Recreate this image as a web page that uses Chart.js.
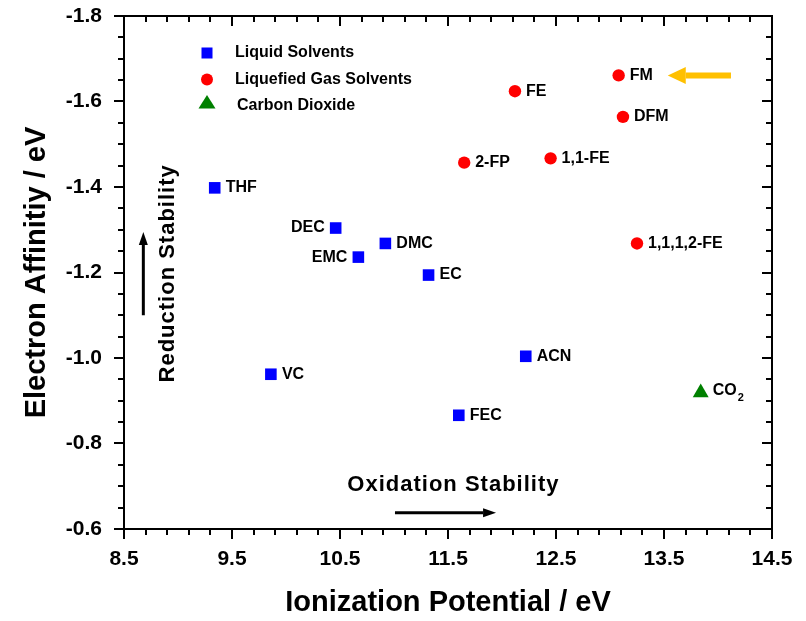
<!DOCTYPE html>
<html>
<head>
<meta charset="utf-8">
<title>Electron Affinity vs Ionization Potential</title>
<script src="https://cdn.jsdelivr.net/npm/chart.js@4.4.0/dist/chart.umd.min.js"></script>
<style>
  html, body { margin: 0; padding: 0; background: #fff; }
  #wrap { width: 806px; height: 621px; }
</style>
</head>
<body>
<div id="wrap"><canvas id="chart" width="806" height="621"></canvas></div>
<script>
// Liquid solvents (blue squares)
const liquidNames = ["THF", "DEC", "EMC", "DMC", "EC", "VC", "ACN", "FEC"];
const liquidIP = [9.34, 10.46, 10.67, 10.92, 11.32, 9.86, 12.22, 11.60];
const liquidEA = [-1.398, -1.304, -1.236, -1.268, -1.194, -0.962, -1.004, -0.866];
const liquidSides = ["right", "left", "left", "right", "right", "right", "right", "right"];

// Liquefied gas solvents (red circles)
const gasNames = ["FE", "FM", "DFM", "2-FP", "1,1-FE", "1,1,1,2-FE"];
const gasIP = [12.12, 13.08, 13.12, 11.65, 12.45, 13.25];
const gasEA = [-1.624, -1.661, -1.564, -1.457, -1.467, -1.268];
const gasSides = ["right", "right", "right", "right", "right", "right"];

// Carbon dioxide (green triangle)
const co2Names = ["CO2"];
const co2IP = [13.84];
const co2EA = [-0.919];
const co2Sides = ["right"];

const xTickValues = [8.5, 9.5, 10.5, 11.5, 12.5, 13.5, 14.5];
const yTickValues = [-1.8, -1.6, -1.4, -1.2, -1.0, -0.8, -0.6];
const xMinorStep = 0.2;
const yMinorStep = 0.05;

const FONT = '"Liberation Sans", Arial, sans-serif';

function toPoints(xs, ys) {
    return xs.map((x, i) => ({ x: x, y: ys[i] }));
}

// frame around the plot, with outward ticks bottom/left and inward ticks top/right
const framePlugin = {
    id: "frame",
    afterDraw(chart) {
        const { ctx, chartArea: a, scales: { x, y } } = chart;
        const major = 10;
        const minor = 6;
        ctx.save();
        ctx.strokeStyle = "#000";
        ctx.lineWidth = 2;
        ctx.strokeRect(a.left, a.top, a.right - a.left, a.bottom - a.top);
        ctx.beginPath();
        const nx = Math.round((x.max - x.min) / xMinorStep);
        for (let k = 0; k <= nx; k++) {
            const px = Math.round(x.getPixelForValue(x.min + k * xMinorStep));
            const len = k % 5 === 0 ? major : minor;
            ctx.moveTo(px, a.bottom);
            ctx.lineTo(px, a.bottom + len);
            ctx.moveTo(px, a.top);
            ctx.lineTo(px, a.top + len);
        }
        const ny = Math.round((y.max - y.min) / yMinorStep);
        for (let k = 0; k <= ny; k++) {
            const py = Math.round(y.getPixelForValue(y.min + k * yMinorStep));
            const len = k % 4 === 0 ? major : minor;
            ctx.moveTo(a.left, py);
            ctx.lineTo(a.left - len, py);
            ctx.moveTo(a.right, py);
            ctx.lineTo(a.right - len, py);
        }
        ctx.stroke();
        ctx.restore();
    }
};

// compound names next to each marker
const nameLabelPlugin = {
    id: "nameLabels",
    afterDatasetsDraw(chart) {
        const ctx = chart.ctx;
        ctx.save();
        ctx.fillStyle = "#000";
        ctx.textBaseline = "middle";
        chart.data.datasets.forEach((ds, i) => {
            const meta = chart.getDatasetMeta(i);
            meta.data.forEach((pt, j) => {
                const name = ds.names[j];
                const side = ds.sides[j];
                ctx.font = "bold 16px " + FONT;
                if (name === "CO2") {
                    const tx = pt.x + 12;
                    ctx.textAlign = "left";
                    ctx.fillText("CO", tx, pt.y - 2);
                    const w = ctx.measureText("CO").width;
                    ctx.font = "bold 11px " + FONT;
                    ctx.fillText("2", tx + w + 1, pt.y + 5);
                    return;
                }
                if (side === "left") {
                    ctx.textAlign = "right";
                    ctx.fillText(name, pt.x - 11, pt.y);
                } else {
                    ctx.textAlign = "left";
                    ctx.fillText(name, pt.x + 11, pt.y);
                }
            });
        });
        ctx.restore();
    }
};

function arrow(ctx, x1, y1, x2, y2, width, headLen, headHalf, color) {
    const ang = Math.atan2(y2 - y1, x2 - x1);
    const bx = x2 - Math.cos(ang) * headLen;
    const by = y2 - Math.sin(ang) * headLen;
    ctx.strokeStyle = color;
    ctx.fillStyle = color;
    ctx.lineWidth = width;
    ctx.beginPath();
    ctx.moveTo(x1, y1);
    ctx.lineTo(bx, by);
    ctx.stroke();
    ctx.beginPath();
    ctx.moveTo(x2, y2);
    ctx.lineTo(bx - Math.sin(ang) * headHalf, by + Math.cos(ang) * headHalf);
    ctx.lineTo(bx + Math.sin(ang) * headHalf, by - Math.cos(ang) * headHalf);
    ctx.closePath();
    ctx.fill();
}

// legend box, stability arrows and the FM pointer
const annotationPlugin = {
    id: "annotations",
    afterDraw(chart) {
        const { ctx, chartArea: a, scales: { x, y } } = chart;
        ctx.save();

        // legend
        const mx = a.left + 83;
        const tx = a.left + 111;
        const rows = [a.top + 37, a.top + 63.5, a.top + 89];
        ctx.fillStyle = "#0000ff";
        ctx.fillRect(mx - 5.5, rows[0] - 5.5, 11, 11);
        ctx.fillStyle = "#ff0000";
        ctx.beginPath();
        ctx.arc(mx, rows[1], 6, 0, Math.PI * 2);
        ctx.fill();
        ctx.fillStyle = "#008000";
        ctx.beginPath();
        ctx.moveTo(mx, rows[2] - 10);
        ctx.lineTo(mx + 8.5, rows[2] + 3.5);
        ctx.lineTo(mx - 8.5, rows[2] + 3.5);
        ctx.closePath();
        ctx.fill();
        ctx.fillStyle = "#000";
        ctx.font = "bold 16px " + FONT;
        ctx.textBaseline = "middle";
        ctx.textAlign = "left";
        ctx.fillText("Liquid Solvents", tx, rows[0]);
        ctx.fillText("Liquefied Gas Solvents", tx, rows[1]);
        ctx.fillText("Carbon Dioxide", tx + 2, rows[2] + 1);

        // pointer to FM
        const fy = y.getPixelForValue(gasEA[1]);
        arrow(ctx, x.getPixelForValue(14.12), fy, x.getPixelForValue(13.535), fy, 6, 18, 8.5, "#ffc000");

        // reduction stability
        const rx = x.getPixelForValue(8.679);
        arrow(ctx, rx, y.getPixelForValue(-1.100), rx, y.getPixelForValue(-1.295), 3, 13, 4.5, "#000");
        ctx.save();
        ctx.translate(x.getPixelForValue(8.903), y.getPixelForValue(-1.198));
        ctx.rotate(-Math.PI / 2);
        ctx.fillStyle = "#000";
        ctx.font = "bold 22px " + FONT;
        ctx.letterSpacing = "1px";
        ctx.textAlign = "center";
        ctx.textBaseline = "middle";
        ctx.fillText("Reduction Stability", 0, 0);
        ctx.restore();

        // oxidation stability
        const oy = y.getPixelForValue(-0.638);
        arrow(ctx, x.getPixelForValue(11.009), oy, x.getPixelForValue(11.945), oy, 3, 13, 4.5, "#000");
        ctx.fillStyle = "#000";
        ctx.font = "bold 22px " + FONT;
        ctx.letterSpacing = "1px";
        ctx.textAlign = "center";
        ctx.textBaseline = "middle";
        ctx.fillText("Oxidation Stability", x.getPixelForValue(11.55), y.getPixelForValue(-0.703));
        ctx.restore();
    }
};

const tickFont = { family: FONT, size: 21, weight: "bold" };
const titleFont = { family: FONT, size: 29, weight: "bold" };

new Chart(document.getElementById("chart"), {
    type: "scatter",
    data: {
        datasets: [
            {
                label: "Liquid Solvents",
                data: toPoints(liquidIP, liquidEA),
                names: liquidNames,
                sides: liquidSides,
                pointStyle: "rect",
                pointRadius: 8.2,
                backgroundColor: "#0000ff",
                borderColor: "#0000ff",
                borderWidth: 0
            },
            {
                label: "Liquefied Gas Solvents",
                data: toPoints(gasIP, gasEA),
                names: gasNames,
                sides: gasSides,
                pointStyle: "circle",
                pointRadius: 6.2,
                backgroundColor: "#ff0000",
                borderColor: "#ff0000",
                borderWidth: 0
            },
            {
                label: "Carbon Dioxide",
                data: toPoints(co2IP, co2EA),
                names: co2Names,
                sides: co2Sides,
                pointStyle: "triangle",
                pointRadius: 9.2,
                backgroundColor: "#008000",
                borderColor: "#008000",
                borderWidth: 0
            }
        ]
    },
    options: {
        responsive: false,
        animation: false,
        devicePixelRatio: 1,
        layout: { padding: { top: 16, right: 34, left: 0, bottom: 0 } },
        plugins: {
            legend: { display: false },
            tooltip: { enabled: false }
        },
        scales: {
            x: {
                type: "linear",
                min: 8.5,
                max: 14.5,
                afterBuildTicks: (scale) => {
                    scale.ticks = xTickValues.map((v) => ({ value: v }));
                },
                afterFit: (scale) => {
                    scale.height = 92;
                    scale.paddingLeft = 0;
                    scale.paddingRight = 0;
                },
                grid: { display: false },
                border: { display: false },
                ticks: {
                    color: "#000",
                    font: tickFont,
                    padding: 10,
                    maxRotation: 0,
                    autoSkip: false,
                    callback: (v) => Number(v).toFixed(1)
                },
                title: {
                    display: true,
                    text: "Ionization Potential / eV",
                    color: "#000",
                    font: titleFont,
                    padding: { top: 0, bottom: 1 }
                }
            },
            y: {
                type: "linear",
                reverse: true,
                min: -1.8,
                max: -0.6,
                afterBuildTicks: (scale) => {
                    scale.ticks = yTickValues.map((v) => ({ value: v }));
                },
                afterFit: (scale) => {
                    scale.width = 124;
                    scale.paddingTop = 0;
                    scale.paddingBottom = 0;
                },
                grid: { display: false },
                border: { display: false },
                ticks: {
                    color: "#000",
                    font: tickFont,
                    padding: 14,
                    autoSkip: false,
                    callback: (v) => Number(v).toFixed(1)
                },
                title: {
                    display: true,
                    text: "Electron Affinitiy / eV",
                    color: "#000",
                    font: titleFont,
                    padding: { top: 20, bottom: 0 }
                }
            }
        }
    },
    plugins: [framePlugin, nameLabelPlugin, annotationPlugin]
});
</script>
</body>
</html>
